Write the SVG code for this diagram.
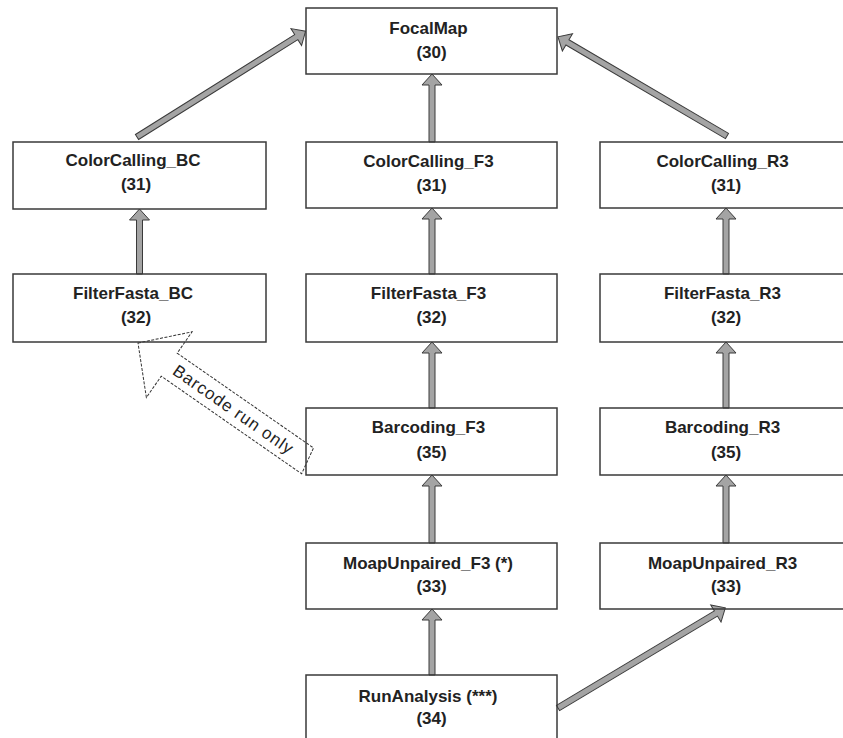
<svg xmlns="http://www.w3.org/2000/svg" width="843" height="738" viewBox="0 0 843 738">
  <defs>
    <style>
      .box { fill: none; stroke: #3a3a3a; stroke-width: 1.5; }
      .lbl { font-family: "Liberation Sans", Arial, sans-serif; font-size: 17px; font-weight: bold; fill: #222; text-anchor: middle; }
      .arr { fill: #a4a4a4; stroke: #3a3a3a; stroke-width: 1; stroke-linejoin: miter; }
      .note { fill: #fff; stroke: #333; stroke-width: 1; stroke-dasharray: 3 1.5; }
      .notetxt { font-family: "Liberation Sans", Arial, sans-serif; font-size: 17px; fill: #222; text-anchor: middle; }
    </style>
  </defs>
  <rect width="843" height="738" fill="#fff"/>

  <!-- annotation block arrow, drawn below the boxes -->
  <g id="barcode-note" transform="translate(138,343) rotate(34.8)">
    <path class="note" d="M0,0 L38,-40 L38,-14 L204,-14 L209,14 L38,14 L38,40 Z"/>
    <text class="notetxt" x="116" y="6" textLength="142" lengthAdjust="spacing">Barcode run only</text>
  </g>

  <!-- connectors: arrow shapes drawn from tail (0,0) to tip (L,0) -->
  <g id="connectors">
    <!-- middle column -->
    <path class="arr" transform="translate(432,142) rotate(-90)" d="M0,-3 H57 V-10 L68,0 L57,10 V3 H0 Z"/>
    <path class="arr" transform="translate(432,274) rotate(-90)" d="M0,-3 H55 V-10 L66,0 L55,10 V3 H0 Z"/>
    <path class="arr" transform="translate(432,408) rotate(-90)" d="M0,-3 H55 V-10 L66,0 L55,10 V3 H0 Z"/>
    <path class="arr" transform="translate(432,543) rotate(-90)" d="M0,-3 H57 V-10 L68,0 L57,10 V3 H0 Z"/>
    <path class="arr" transform="translate(432,675) rotate(-90)" d="M0,-3 H55 V-10 L66,0 L55,10 V3 H0 Z"/>
    <!-- left column -->
    <path class="arr" transform="translate(139.5,274) rotate(-90)" d="M0,-3 H54 V-10 L65,0 L54,10 V3 H0 Z"/>
    <!-- right column -->
    <path class="arr" transform="translate(726,274) rotate(-90)" d="M0,-3 H55 V-10 L66,0 L55,10 V3 H0 Z"/>
    <path class="arr" transform="translate(726,408) rotate(-90)" d="M0,-3 H55 V-10 L66,0 L55,10 V3 H0 Z"/>
    <path class="arr" transform="translate(726,543) rotate(-90)" d="M0,-3 H57 V-10 L68,0 L57,10 V3 H0 Z"/>
    <!-- diagonals -->
    <path class="arr" transform="translate(137,137) rotate(-32.1)" d="M0,-3 H188 V-10 L199,0 L188,10 V3 H0 Z"/>
    <path class="arr" transform="translate(727,136) rotate(-149.6)" d="M0,-3 H185 V-10 L196,0 L185,10 V3 H0 Z"/>
    <path class="arr" transform="translate(558,708) rotate(-30.9)" d="M0,-3 H184 V-10 L195,0 L184,10 V3 H0 Z"/>
  </g>

  <g id="FocalMap">
    <rect class="box" x="306" y="8" width="251" height="66"/>
    <text class="lbl" x="428.5" y="34">FocalMap</text>
    <text class="lbl" x="431.5" y="58">(30)</text>
  </g>

  <g id="ColorCalling_BC">
    <rect class="box" x="13" y="142" width="253" height="67"/>
    <text class="lbl" x="133" y="166">ColorCalling_BC</text>
    <text class="lbl" x="136" y="190">(31)</text>
  </g>
  <g id="ColorCalling_F3">
    <rect class="box" x="306" y="142" width="251" height="66"/>
    <text class="lbl" x="428.5" y="167">ColorCalling_F3</text>
    <text class="lbl" x="431.5" y="191">(31)</text>
  </g>
  <g id="ColorCalling_R3">
    <rect class="box" x="600" y="142" width="252" height="66"/>
    <text class="lbl" x="722.5" y="167">ColorCalling_R3</text>
    <text class="lbl" x="726" y="191">(31)</text>
  </g>

  <g id="FilterFasta_BC">
    <rect class="box" x="13" y="274" width="253" height="68"/>
    <text class="lbl" x="133" y="299">FilterFasta_BC</text>
    <text class="lbl" x="136" y="323">(32)</text>
  </g>
  <g id="FilterFasta_F3">
    <rect class="box" x="306" y="274" width="251" height="68"/>
    <text class="lbl" x="428.5" y="299">FilterFasta_F3</text>
    <text class="lbl" x="431.5" y="323">(32)</text>
  </g>
  <g id="FilterFasta_R3">
    <rect class="box" x="600" y="274" width="252" height="68"/>
    <text class="lbl" x="722.5" y="299">FilterFasta_R3</text>
    <text class="lbl" x="726" y="323">(32)</text>
  </g>

  <g id="Barcoding_F3">
    <rect class="box" x="306" y="408" width="251" height="67"/>
    <text class="lbl" x="428.5" y="433">Barcoding_F3</text>
    <text class="lbl" x="431.5" y="458">(35)</text>
  </g>
  <g id="Barcoding_R3">
    <rect class="box" x="600" y="408" width="252" height="67"/>
    <text class="lbl" x="722.5" y="433">Barcoding_R3</text>
    <text class="lbl" x="726" y="458">(35)</text>
  </g>

  <g id="MoapUnpaired_F3">
    <rect class="box" x="306" y="543" width="251" height="66"/>
    <text class="lbl" x="428" y="569">MoapUnpaired_F3 (*)</text>
    <text class="lbl" x="431.5" y="592">(33)</text>
  </g>
  <g id="MoapUnpaired_R3">
    <rect class="box" x="600" y="543" width="252" height="66"/>
    <text class="lbl" x="722.5" y="569">MoapUnpaired_R3</text>
    <text class="lbl" x="726" y="592">(33)</text>
  </g>

  <g id="RunAnalysis">
    <rect class="box" x="306" y="675" width="251" height="68"/>
    <text class="lbl" x="428" y="702">RunAnalysis (***)</text>
    <text class="lbl" x="431.5" y="724">(34)</text>
  </g>
</svg>
